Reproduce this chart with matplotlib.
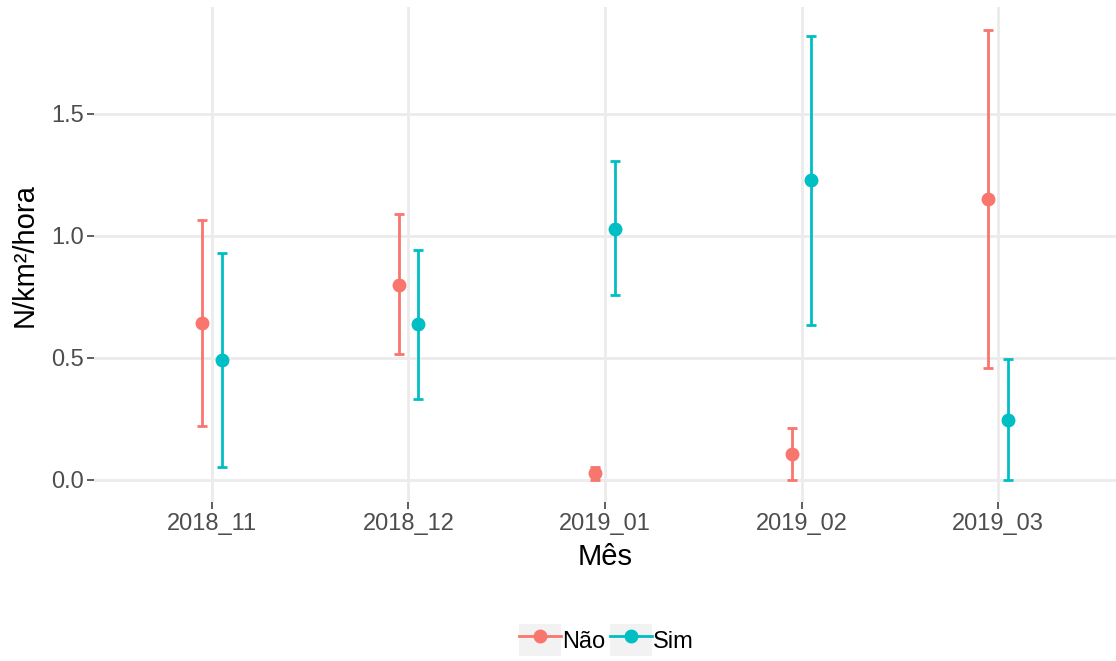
import matplotlib.pyplot as plt
import numpy as np
from matplotlib.lines import Line2D
from matplotlib.legend_handler import HandlerLine2D
from matplotlib.patches import Rectangle

# dados
meses = ["2018_11", "2018_12", "2019_01", "2019_02", "2019_03"]

nao_media = [0.642, 0.800, 0.028, 0.106, 1.151]
nao_inf = [0.221, 0.515, 0.0, 0.0, 0.458]
nao_sup = [1.064, 1.088, 0.053, 0.213, 1.844]

sim_media = [0.491, 0.639, 1.029, 1.227, 0.245]
sim_inf = [0.053, 0.333, 0.756, 0.634, 0.0]
sim_sup = [0.929, 0.940, 1.304, 1.819, 0.495]

COR_NAO = "#F8766D"
COR_SIM = "#00BFC4"

plt.rcParams["font.family"] = ["Liberation Sans", "DejaVu Sans"]


class ChaveComFundo(HandlerLine2D):
    # legenda estilo ggplot: fundo cinza atrás de cada chave
    def create_artists(self, legend, orig_handle, xdescent, ydescent,
                       width, height, fontsize, trans):
        fundo = Rectangle((-xdescent, -ydescent), width, height,
                          facecolor="#f2f2f2", edgecolor="none", transform=trans)
        artistas = super().create_artists(legend, orig_handle, xdescent, ydescent,
                                          width, height, fontsize, trans)
        return [fundo] + artistas


fig = plt.figure(figsize=(11.16, 6.61), dpi=100)
ax = fig.add_axes([0.0842, 0.2398, 0.9158, 0.7496])

x = np.arange(len(meses))
desloc = 0.05

for med, inf, sup, cor, dx in [(nao_media, nao_inf, nao_sup, COR_NAO, -desloc),
                               (sim_media, sim_inf, sim_sup, COR_SIM, desloc)]:
    med = np.array(med)
    erro = [med - np.array(inf), np.array(sup) - med]
    ax.errorbar(x + dx, med, yerr=erro, fmt="o", color=cor, ms=9,
                elinewidth=2.0, capsize=3.8, capthick=2.0, zorder=3)

# limites com expansão de 5% como no ggplot
ymin = min(min(nao_inf), min(sim_inf))
ymax = max(max(nao_sup), max(sim_sup))
pad = 0.05 * (ymax - ymin)
ax.set_ylim(ymin - pad, ymax + pad)
ax.set_xlim(-0.6, len(meses) - 0.4)

ax.set_xticks(x)
ax.set_xticklabels(meses)
ax.set_yticks([0.0, 0.5, 1.0, 1.5])
ax.set_yticklabels(["0.0", "0.5", "1.0", "1.5"])

ax.grid(True, color="#ebebeb", linewidth=2.0)
ax.set_axisbelow(True)
for s in ax.spines.values():
    s.set_visible(False)
ax.tick_params(axis="both", length=5, width=1.1, color="#333333",
               labelcolor="#4d4d4d", labelsize=17, pad=2.5)

ax.set_xlabel("Mês", fontsize=21, color="black")
ax.set_ylabel("N/km²/hora", fontsize=21, color="black")
ax.xaxis.set_label_coords(0.5, -0.0817)
ax.yaxis.set_label_coords(-0.054, 0.5)

handles = [Line2D([], [], color=COR_NAO, marker="o", ms=9, lw=2.0),
           Line2D([], [], color=COR_SIM, marker="o", ms=9, lw=2.0)]
fig.legend(handles, ["Não", "Sim"], loc="center", ncol=2,
           bbox_to_anchor=(0.5435, 0.032), frameon=False, fontsize=17,
           handlelength=1.78, handleheight=1.7, handletextpad=0.05,
           columnspacing=0.2, borderpad=0,
           handler_map={Line2D: ChaveComFundo(marker_pad=0.1)})

fig.savefig("out.png", dpi=100)
